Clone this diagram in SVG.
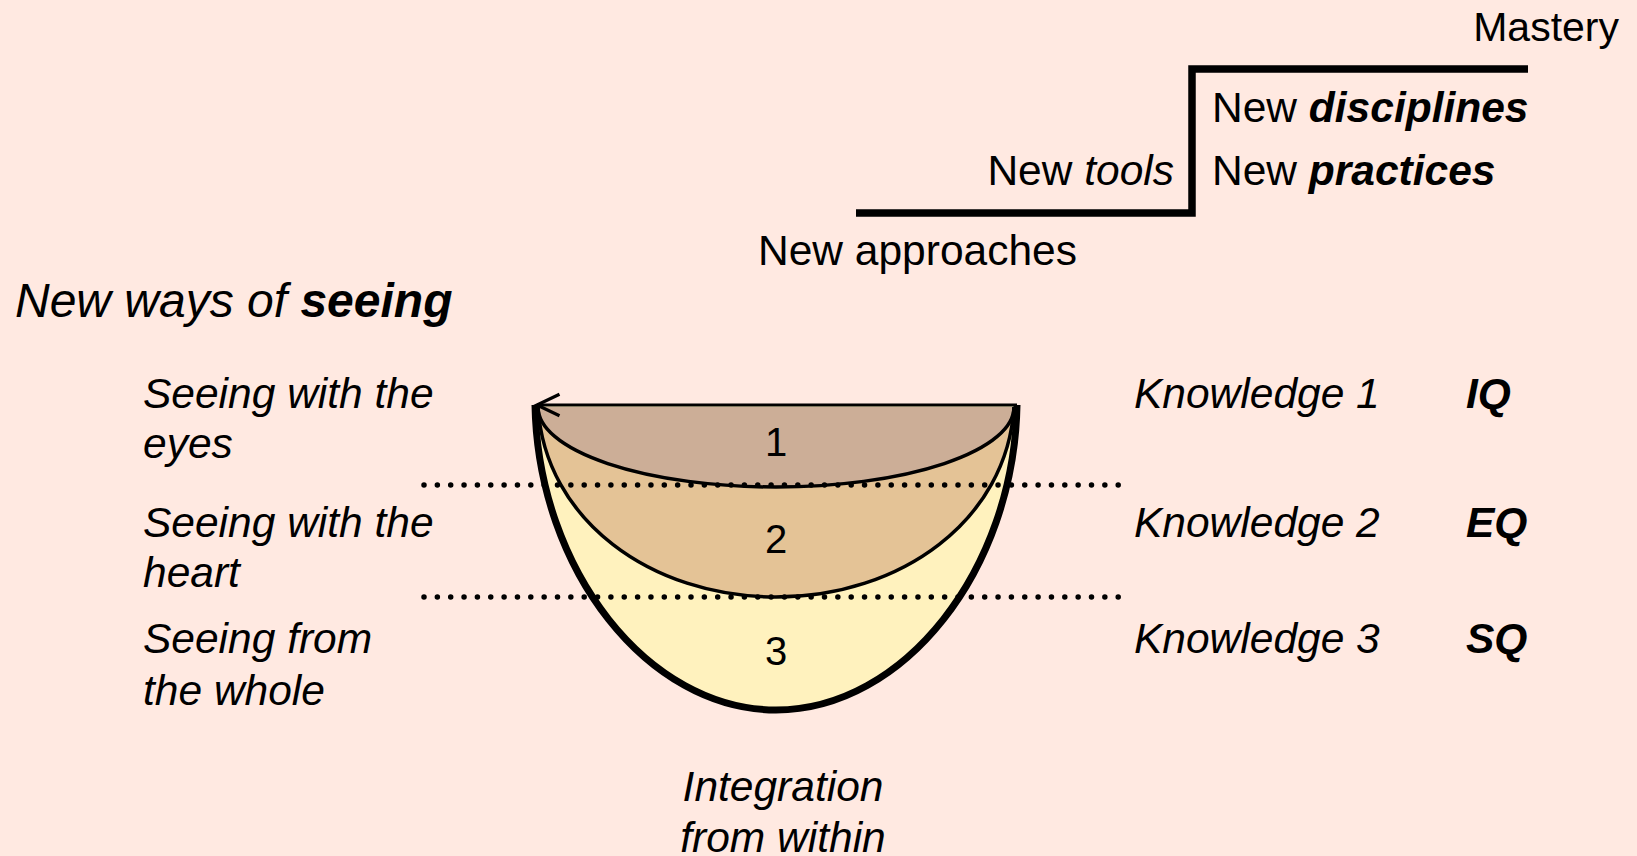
<svg xmlns="http://www.w3.org/2000/svg" width="1637" height="856" viewBox="0 0 1637 856">
<style>
text{font-family:"Liberation Sans",Arial,sans-serif;fill:#000}
.t42{font-size:42.5px}
.it{font-style:italic}
.b{font-weight:bold}
.num{font-size:40px;text-anchor:middle}
.arc{fill:none;stroke:#000;stroke-width:3.5}
.dots{fill:none;stroke:#000;stroke-width:5.5;stroke-linecap:round;stroke-dasharray:0 13.35}
</style>
<defs>
<marker id="chev" markerUnits="userSpaceOnUse" markerWidth="30" markerHeight="30" viewBox="-24 -14 28 28" refX="0" refY="0" orient="auto">
<path d="M-21,-10 L0,0 L-21,10" fill="none" stroke="#000" stroke-width="3"/>
</marker>
</defs>
<rect width="1637" height="856" fill="#FFE9E1"/>

<g id="steps">
<polyline points="856,213 1192,213 1192,69 1528,69" fill="none" stroke="#000" stroke-width="7.5" stroke-linejoin="miter"/>
</g>

<g id="step-labels">
<text x="1619" y="41" font-size="41" text-anchor="end">Mastery</text>
<text class="t42" x="1212" y="122">New <tspan class="b it">disciplines</tspan></text>
<text class="t42" x="1212" y="185">New <tspan class="b it">practices</tspan></text>
<text class="t42" x="1174" y="185" text-anchor="end">New <tspan class="it">tools</tspan></text>
<text class="t42" x="758" y="265">New approaches</text>
</g>

<g id="title">
<text x="15" y="317" font-size="48" class="it">New ways of <tspan class="b">seeing</tspan></text>
</g>

<g id="bowl">
<path d="M535,405 C538,570 648,710 776,710 C904,710 1014,570 1017,405 Z" fill="#FFF2BE"/>
<path d="M538,407 C545,520 651,597 776,597 C901,597 1007,520 1014,407 Z" fill="#E4C396"/>
<path d="M538,407 A238,80 0 0 0 1014,407 Z" fill="#CCAE97"/>
<path class="arc" d="M538,407 C545,520 651,597 776,597 C901,597 1007,520 1014,407"/>
<path class="arc" d="M538,407 A238,80 0 0 0 1014,407"/>
<path d="M535,405 C538,570 648,710 776,710 C904,710 1014,570 1017,405" fill="none" stroke="#000" stroke-width="7"/>
<text class="num" x="776" y="456">1</text>
<text class="num" x="776" y="553">2</text>
<text class="num" x="776" y="665">3</text>
</g>

<g id="connectors">
<line x1="1017" y1="405" x2="537" y2="405" stroke="#000" stroke-width="3" marker-end="url(#chev)"/>
<line class="dots" x1="424" y1="485" x2="1119" y2="485"/>
<line class="dots" x1="424" y1="597" x2="1119" y2="597"/>
</g>

<g id="left-labels">
<text class="t42 it" x="143" y="408">Seeing with the</text>
<text class="t42 it" x="143" y="458">eyes</text>
<text class="t42 it" x="143" y="537">Seeing with the</text>
<text class="t42 it" x="143" y="587">heart</text>
<text class="t42 it" x="143" y="653">Seeing from</text>
<text class="t42 it" x="143" y="705">the whole</text>
</g>

<g id="right-labels">
<text class="t42 it" x="1134" y="408">Knowledge 1</text>
<text class="t42 it" x="1134" y="537">Knowledge 2</text>
<text class="t42 it" x="1134" y="653">Knowledge 3</text>
<text class="t42 it b" x="1466" y="408">IQ</text>
<text class="t42 it b" x="1466" y="537">EQ</text>
<text class="t42 it b" x="1466" y="653">SQ</text>
</g>

<g id="integration">
<text class="t42 it" x="783" y="801" text-anchor="middle">Integration</text>
<text class="t42 it" x="783" y="852" text-anchor="middle">from within</text>
</g>
</svg>
